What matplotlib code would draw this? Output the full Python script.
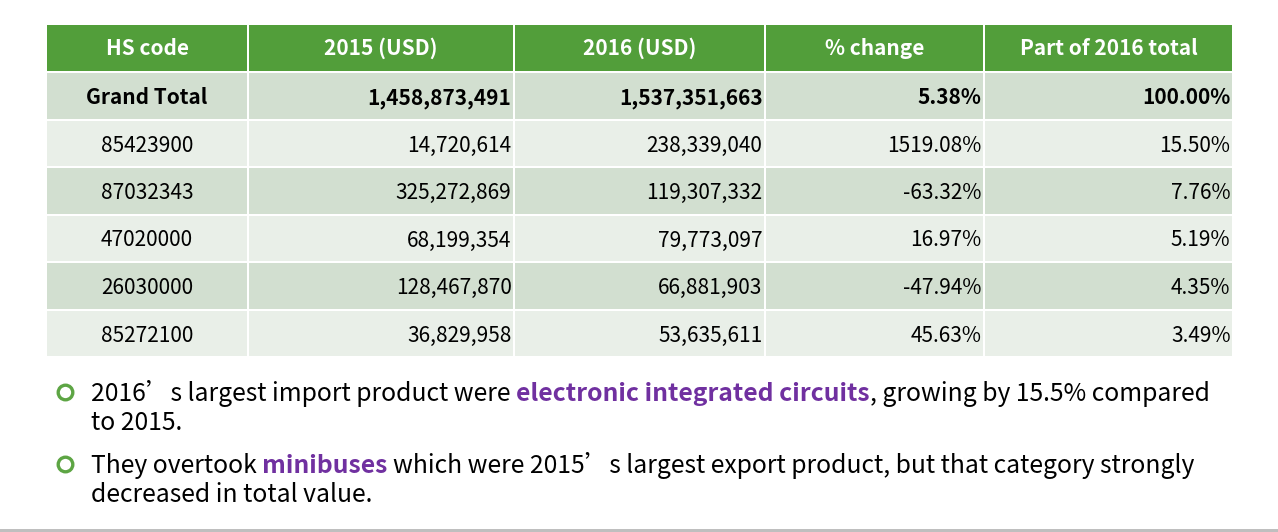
import matplotlib
matplotlib.use('Agg')
import matplotlib.pyplot as plt
from matplotlib.patches import Rectangle, Circle

plt.rcParams['font.family'] = ['Noto Sans CJK SC', 'DejaVu Sans']

# table data
columns = ['HS code', '2015 (USD)', '2016 (USD)', '% change', 'Part of 2016 total']
hs_codes = ['85423900', '87032343', '47020000', '26030000', '85272100']
usd_2015 = [14720614, 325272869, 68199354, 128467870, 36829958]
usd_2016 = [238339040, 119307332, 79773097, 66881903, 53635611]
pct_change = [1519.08, -63.32, 16.97, -47.94, 45.63]
share_2016 = [15.50, 7.76, 5.19, 4.35, 3.49]
total_label = 'Grand Total'
total_2015 = 1458873491
total_2016 = 1537351663
total_change = 5.38
total_share = 100.00

GREEN = '#529E3A'
DARK_ROW = '#D2DFD0'
LIGHT_ROW = '#E9EFE8'
PURPLE = '#7030A0'

fig = plt.figure(figsize=(12.78, 5.32), dpi=100)
ax = fig.add_axes([0, 0, 1, 1])
ax.set_xlim(0, 1278)
ax.set_ylim(532, 0)
ax.axis('off')

# layout in pixels
col_edges = [47, 249, 515, 766, 985, 1234]
row_tops = [25, 73, 120.5, 168, 215.5, 263, 310.5]
row_h = 45.5
gap = 2
fs = 15


def fmt_row(code, v15, v16, chg, share):
    return [code, f'{v15:,}', f'{v16:,}', f'{chg:.2f}%', f'{share:.2f}%']


rows = [fmt_row(total_label, total_2015, total_2016, total_change, total_share)]
for r in zip(hs_codes, usd_2015, usd_2016, pct_change, share_2016):
    rows.append(fmt_row(*r))

# header
top = row_tops[0]
for j, name in enumerate(columns):
    x0, x1 = col_edges[j], col_edges[j + 1] - gap
    ax.add_patch(Rectangle((x0, top), x1 - x0, row_h, color=GREEN, lw=0))
    ax.text((x0 + x1) / 2, top + 30, name, color='white', fontsize=fs,
            fontweight='bold', ha='center', va='baseline')

# body
for i, cells in enumerate(rows):
    top = row_tops[i + 1]
    if i == 0:
        fill, weight = DARK_ROW, 'bold'
    else:
        fill = LIGHT_ROW if i % 2 == 1 else DARK_ROW
        weight = 'normal'
    for j, val in enumerate(cells):
        x0, x1 = col_edges[j], col_edges[j + 1] - gap
        ax.add_patch(Rectangle((x0, top), x1 - x0, row_h, color=fill, lw=0))
        if j == 0:
            ax.text((x0 + x1) / 2, top + 31, val, fontsize=fs, fontweight=weight,
                    ha='center', va='baseline', color='black')
        else:
            ax.text(x1 - 1.5, top + 31, val, fontsize=fs, fontweight=weight,
                    ha='right', va='baseline', color='black')

# bullets with mixed formatting
fig.canvas.draw()
renderer = fig.canvas.get_renderer()
bsize = 17.8


def text_w(s, weight='normal'):
    t = ax.text(0, 0, s, fontsize=bsize, fontweight=weight)
    w = t.get_window_extent(renderer).width
    t.remove()
    return w


space_w = text_w('a a') - text_w('aa')


def rich_line(x, y, parts):
    for s, color, weight in parts:
        if s.startswith(' '):
            x += space_w
        t = ax.text(x, y, s.strip(), fontsize=bsize, color=color,
                    fontweight=weight, ha='left', va='baseline')
        x += t.get_window_extent(renderer).width


bullets = [
    (392.5, [
        [('2016’s largest import product were', 'black', 'normal'),
         (' electronic integrated circuits', PURPLE, 'bold'),
         (', growing by 15.5% compared', 'black', 'normal')],
        [('to 2015.', 'black', 'normal')],
    ]),
    (464.5, [
        [('They overtook', 'black', 'normal'),
         (' minibuses', PURPLE, 'bold'),
         (' which were 2015’s largest export product, but that category strongly', 'black', 'normal')],
        [('decreased in total value.', 'black', 'normal')],
    ]),
]

for cy, lines in bullets:
    ax.add_patch(Circle((65.5, cy), 7.3, fill=False, edgecolor='#5DA544', lw=2.4))
    for k, parts in enumerate(lines):
        rich_line(91, cy + 8.5 + k * 29, parts)

# gray rule at the bottom
ax.add_patch(Rectangle((0, 528.5), 1278, 3.5, color='#BFBFBF', lw=0))

fig.savefig('out.png', dpi=100, facecolor='white')
